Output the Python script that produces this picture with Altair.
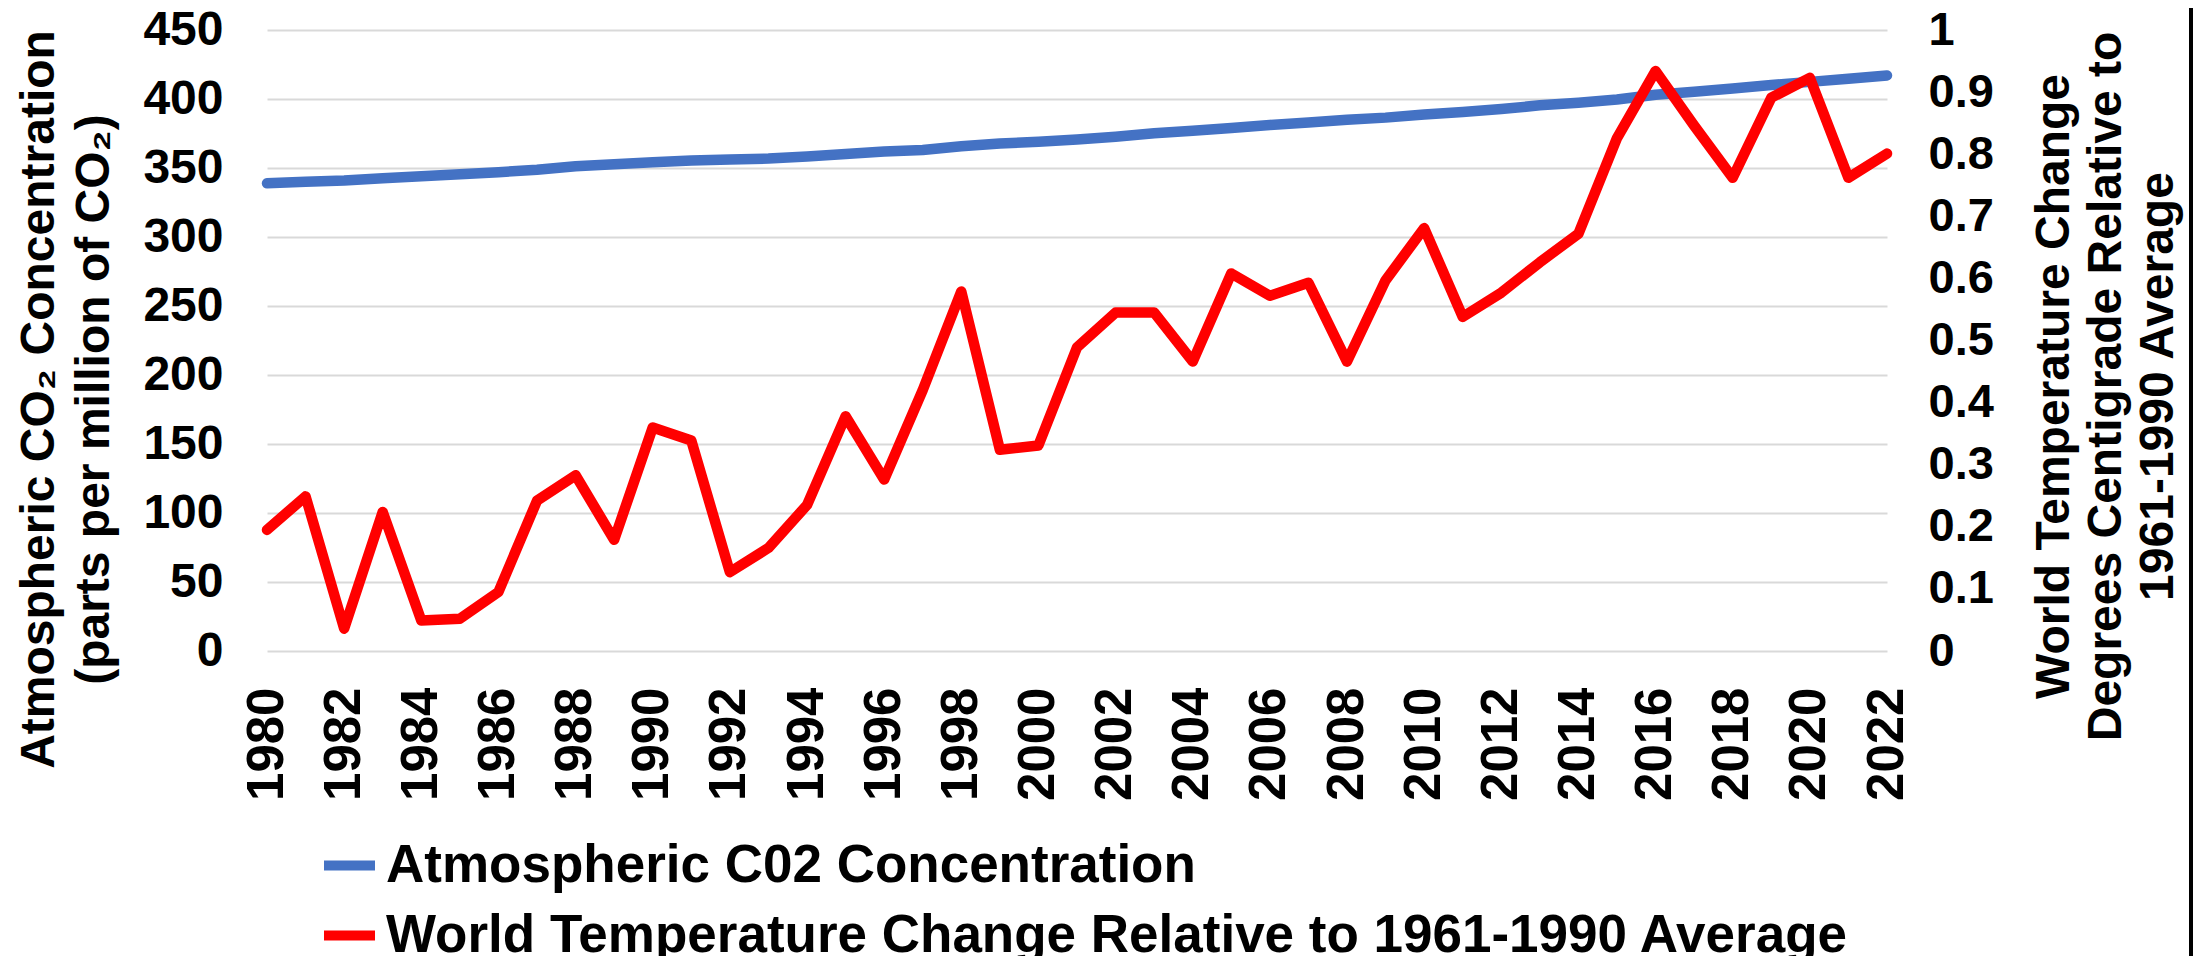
import altair as alt
import pandas as pd

years = list(range(1980, 2023))
co2_ppm = [338.9, 340.1, 340.9, 342.5, 344.1, 345.5, 347.0, 348.7, 351.2, 352.8,
           354.1, 355.4, 356.1, 356.8, 358.3, 360.2, 361.9, 363.1, 365.7, 367.8,
           369.0, 370.6, 372.6, 375.2, 377.0, 379.0, 381.2, 382.9, 385.0, 386.5,
           388.8, 390.6, 392.7, 395.4, 397.3, 399.7, 403.1, 405.2, 407.6, 410.1,
           412.4, 414.7, 417.1]
temp_change = [0.195, 0.249, 0.036, 0.224, 0.049, 0.052, 0.095, 0.242, 0.283, 0.179,
               0.360, 0.339, 0.127, 0.166, 0.235, 0.378, 0.276, 0.420, 0.579, 0.324,
               0.331, 0.489, 0.545, 0.545, 0.466, 0.608, 0.572, 0.593, 0.466, 0.597,
               0.681, 0.538, 0.577, 0.626, 0.672, 0.826, 0.934, 0.846, 0.762, 0.891,
               0.923, 0.762, 0.801]

x_ticks = list(range(1980, 2023, 2))
left_ticks = [0, 50, 100, 150, 200, 250, 300, 350, 400, 450]
right_ticks = [0, 0.1, 0.2, 0.3, 0.4, 0.5, 0.6, 0.7, 0.8, 0.9, 1]

co2_name = "Atmospheric C02 Concentration"
temp_name = "World Temperature Change Relative to 1961-1990 Average"
series_colors = ["#4472C4", "#FF0000"]

left_title = ["Atmospheric CO\u2082 Concentration", "(parts per million of CO\u2082)"]
right_title = ["World Temperature Change", "Degrees Centigrade Relative to", "1961-1990 Average"]

df = pd.DataFrame({"Year": years, "CO2": co2_ppm, "Temp": temp_change})

FONT = "Liberation Sans"
LINE_W = 10.5

x_enc = alt.X(
    "Year:Q",
    scale=alt.Scale(domain=[1980, 2022], nice=False, zero=False),
    axis=alt.Axis(values=x_ticks, format="d", labelAngle=-90, labelFontSize=51,
                  labelPadding=36, ticks=False, tickSize=0, domain=False, grid=False,
                  labelFlush=False, labelOverlap=False, title=None),
)

color_scale = alt.Scale(domain=[co2_name, temp_name], range=series_colors)

legend = alt.Legend(
    title=None, orient="none", legendX=52, legendY=805, direction="vertical",
    symbolType="stroke", symbolSize=2601, symbolStrokeWidth=10,
    labelFontSize=53, labelFont=FONT, labelFontWeight="bold", labelColor="black",
    labelLimit=3000, labelOffset=6, rowPadding=12, padding=0,
)

color_enc = alt.Color("Series:N", scale=color_scale, legend=legend)

co2_line = alt.Chart(df).transform_calculate(
    Series=f"'{co2_name}'"
).mark_line(strokeWidth=LINE_W, strokeCap="round", strokeJoin="round").encode(
    x=x_enc,
    y=alt.Y(
        "CO2:Q",
        scale=alt.Scale(domain=[0, 450], nice=False, zero=True),
        axis=alt.Axis(orient="left", values=left_ticks, format="d", labelFontSize=48,
                      labelPadding=44, ticks=False, tickSize=0, domain=False, grid=True,
                      gridColor="#d9d9d9", gridWidth=2,
                      title=left_title, titleFontSize=48, titleAngle=-90,
                      titleX=-214, titleY=369, titleBaseline="alphabetic",
                      titleAlign="center", titleLineHeight=55),
    ),
    color=color_enc,
)

temp_line = alt.Chart(df).transform_calculate(
    Series=f"'{temp_name}'"
).mark_line(strokeWidth=LINE_W, strokeCap="round", strokeJoin="round").encode(
    x=x_enc,
    y=alt.Y(
        "Temp:Q",
        scale=alt.Scale(domain=[0, 1], nice=False, zero=True),
        axis=alt.Axis(orient="right", values=right_ticks, format="~g", labelFontSize=47,
                      labelPadding=41, ticks=False, tickSize=0, domain=False, grid=False,
                      title=right_title, titleFontSize=48, titleAngle=-90,
                      titleX=181, titleY=356, titleBaseline="alphabetic",
                      titleAlign="center", titleLineHeight=52),
    ),
    color=color_enc,
)

border = alt.Chart(alt.Data(values=[{"b": 1}])).mark_rule(color="black", strokeWidth=4).encode(
    x=alt.value(1924), y=alt.value(-40), y2=alt.value(990)
)

chart = (
    alt.layer(co2_line, temp_line, border)
    .resolve_scale(y="independent")
    .properties(
        width=1620, height=621,
        autosize=alt.AutoSizeParams(type="none"),
        padding={"left": 259, "top": 22, "right": 310, "bottom": 305},
    )
    .configure(font=FONT)
    .configure_axis(labelFont=FONT, titleFont=FONT, labelFontWeight="bold",
                    titleFontWeight="bold", labelColor="black", titleColor="black")
    .configure_view(strokeWidth=0)
)

chart.save("out.html", embed_options={"renderer": "svg", "actions": False})
